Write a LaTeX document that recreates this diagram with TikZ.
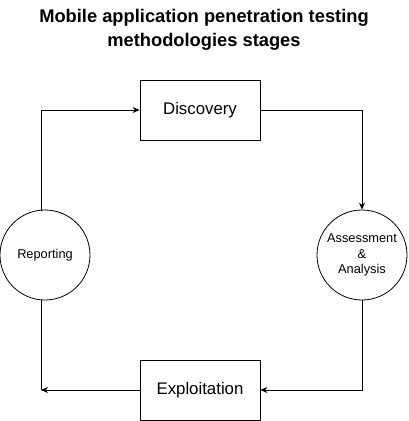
\documentclass[tikz,border=0pt]{standalone}
\usepackage{fontspec}
\setmainfont{Liberation Sans}
\usetikzlibrary{arrows.meta}
\begin{document}
\begin{tikzpicture}[x=1pt,y=-1pt,
  stagebox/.style={draw,line width=0.8pt,minimum width=120pt,minimum height=60pt,inner sep=0pt,font=\fontsize{16.8}{19}\selectfont},
  stagecirc/.style={draw,line width=0.8pt,circle,minimum size=90pt,inner sep=0pt,align=center,font=\fontsize{12.8}{15.5}\selectfont},
  conn/.style={line width=0.8pt,-{Stealth[length=7pt,width=6pt]}},
  plain/.style={line width=0.8pt}]
\useasboundingbox (0,0) rectangle (408,421);
\node[font=\bfseries\fontsize{18.3}{24}\selectfont,align=center] (title) at (204,30) {Mobile application penetration testing\\methodologies stages};
\node[stagebox] (disc) at (200,110) {Discovery};
\node[stagebox] (expl) at (200,390) {Exploitation};
\node[stagecirc] (rep) at (45,255) {Reporting};
\node[stagecirc] (ass) at (362,255) {Assessment\\\&\\Analysis};
\coordinate (repTop) at (41,211);
\coordinate (repBot) at (41,299.5);
\coordinate (end) at (41,390);
\draw[conn] (repTop) |- (disc.west);
\draw[conn] (disc.east) -| (ass.north);
\draw[conn] (ass.south) |- (expl.east);
\draw[conn] (expl.west) -- (end);
\draw[plain] (repBot) -- (end);
\end{tikzpicture}
\end{document}
